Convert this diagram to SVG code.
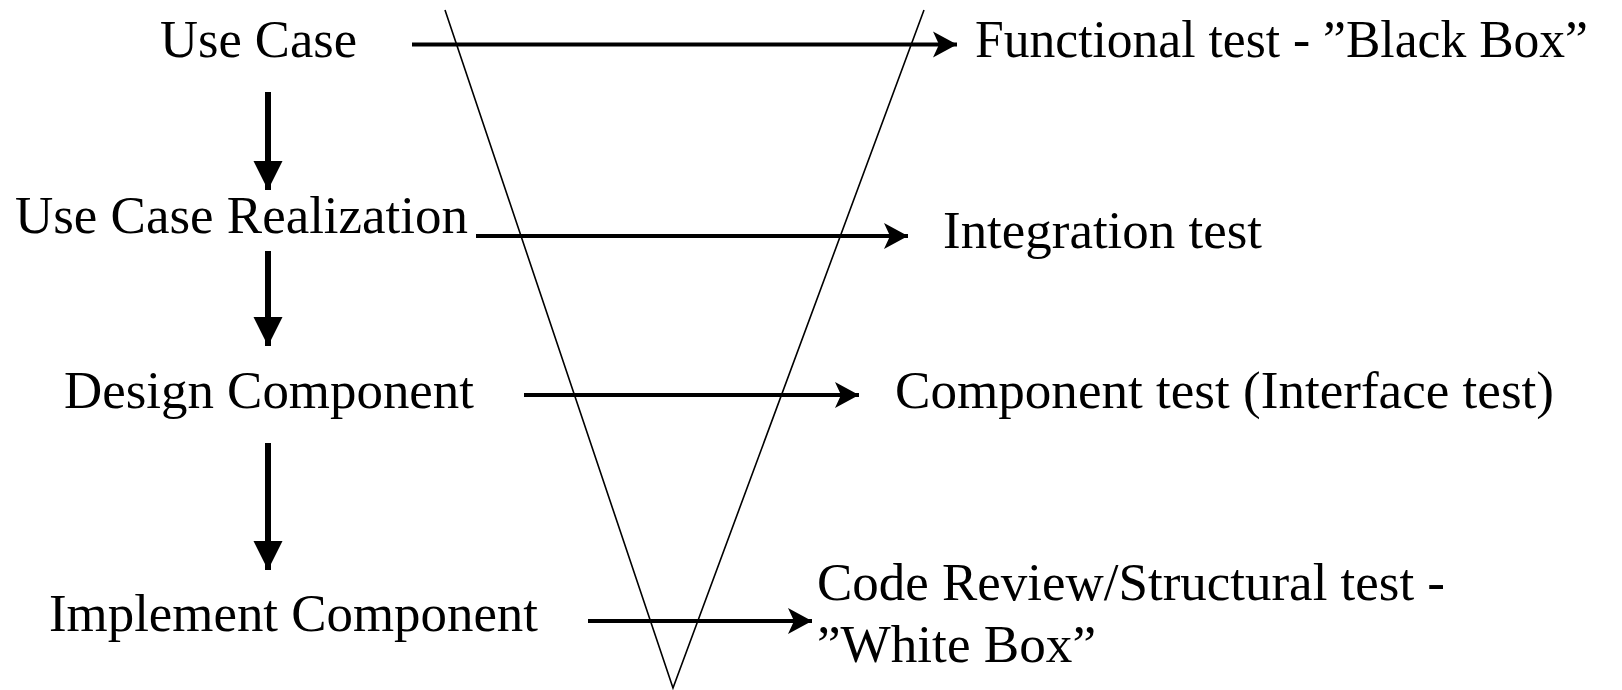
<svg xmlns="http://www.w3.org/2000/svg" width="1622" height="690" viewBox="0 0 1622 690">
<defs>
<style>
text{font-family:"Liberation Serif","Times New Roman",serif;font-size:52px;fill:#000}
.h{stroke:#000;stroke-width:4;fill:none}
.v{stroke:#000;stroke-width:6;fill:none}
.tri{stroke:#000;stroke-width:1.6;fill:none}
</style>
<marker id="ah" markerUnits="userSpaceOnUse" markerWidth="26" markerHeight="28" refX="24" refY="14" orient="auto">
<path d="M0,1 L24,14 L0,27 L6,14 Z" fill="#000"/>
</marker>
<marker id="av" markerUnits="userSpaceOnUse" markerWidth="30" markerHeight="30" refX="29" refY="15" orient="auto">
<path d="M0,0.5 L29,15 L0,29.5 Z" fill="#000"/>
</marker>
</defs>
<rect width="1622" height="690" fill="#fff"/>
<g id="funnel"><polyline class="tri" points="445,10 673,688 924,10"/></g>
<g id="connectors">
<line class="h" x1="412" y1="44.5" x2="957" y2="44.5" marker-end="url(#ah)"/>
<line class="h" x1="476" y1="236" x2="908" y2="236" marker-end="url(#ah)"/>
<line class="h" x1="524" y1="395" x2="859" y2="395" marker-end="url(#ah)"/>
<line class="h" x1="588" y1="621" x2="812" y2="621" marker-end="url(#ah)"/>
<line class="v" x1="268" y1="92" x2="268" y2="190" marker-end="url(#av)"/>
<line class="v" x1="268" y1="251" x2="268" y2="346" marker-end="url(#av)"/>
<line class="v" x1="268" y1="443" x2="268" y2="570" marker-end="url(#av)"/>
</g>
<g id="use-case"><text x="160" y="57" textLength="197" lengthAdjust="spacingAndGlyphs">Use Case</text></g>
<g id="use-case-realization"><text x="15" y="233" textLength="453" lengthAdjust="spacingAndGlyphs">Use Case Realization</text></g>
<g id="design-component"><text x="64" y="408" textLength="410" lengthAdjust="spacingAndGlyphs">Design Component</text></g>
<g id="implement-component"><text x="49" y="631" textLength="489" lengthAdjust="spacingAndGlyphs">Implement Component</text></g>
<g id="functional-test"><text x="975" y="57" textLength="613" lengthAdjust="spacingAndGlyphs">Functional test - ”Black Box”</text></g>
<g id="integration-test"><text x="943" y="248" textLength="319" lengthAdjust="spacingAndGlyphs">Integration test</text></g>
<g id="component-test"><text x="895" y="408" textLength="659" lengthAdjust="spacingAndGlyphs">Component test (Interface test)</text></g>
<g id="code-review"><text x="817" y="600" textLength="628" lengthAdjust="spacingAndGlyphs">Code Review/Structural test -</text><text x="817" y="662" textLength="279" lengthAdjust="spacingAndGlyphs">”White Box”</text></g>
</svg>
